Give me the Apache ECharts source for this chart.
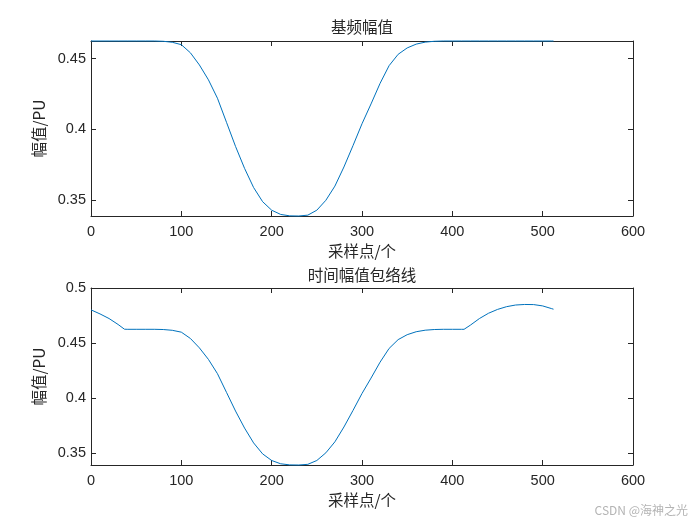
<!DOCTYPE html>
<html>
<head>
<meta charset="utf-8">
<script src="https://cdn.jsdelivr.net/npm/echarts@6/dist/echarts.min.js"></script>
<style>html,body{margin:0;padding:0;background:#fff;}#c{width:700px;height:525px;}</style>
</head>
<body>
<div id="c"></div>
<script>
// ---- data ----
const title1 = '基频幅值';
const title2 = '时间幅值包络线';
const xName = '采样点/个';
const yName = '幅值/PU';
const xTicks = [0, 100, 200, 300, 400, 500, 600];
const yTicksTop = [0.35, 0.4, 0.45];
const yTicksBottom = [0.35, 0.4, 0.45, 0.5];

const topX = [0,10,20,30,40,50,60,70,80,90,100,110,120,130,140,150,160,170,180,190,200,210,220,230,240,250,260,270,280,290,300,310,320,330,340,350,360,370,380,390,400,410,420,430,440,450,460,470,480,490,500,510,512];
const topY = [0.4624,0.4624,0.4624,0.4624,0.4624,0.4624,0.4624,0.4624,0.4622,0.4615,0.4598,0.4541,0.4455,0.4350,0.4220,0.4050,0.3880,0.3725,0.3590,0.3490,0.3430,0.3400,0.3390,0.3389,0.3395,0.3430,0.3500,0.3600,0.3735,0.3885,0.4040,0.4180,0.4325,0.4450,0.4530,0.4575,0.4602,0.4616,0.4622,0.4624,0.4624,0.4624,0.4624,0.4624,0.4624,0.4624,0.4624,0.4624,0.4624,0.4624,0.4624,0.4624,0.4624];

const botX = [0,10,20,30,37,40,50,60,70,80,90,100,110,120,130,140,150,160,170,180,190,200,210,220,230,240,250,260,270,280,290,300,310,320,330,340,350,360,370,380,390,400,410,413,420,430,440,450,460,470,480,490,500,510,512];
const botY = [0.4801,0.4764,0.4722,0.4668,0.4625,0.4624,0.4624,0.4624,0.4624,0.4622,0.4615,0.4598,0.4541,0.4455,0.4350,0.4220,0.4050,0.3880,0.3725,0.3590,0.3490,0.3430,0.3400,0.3390,0.3389,0.3395,0.3430,0.3500,0.3600,0.3735,0.3885,0.4040,0.4180,0.4325,0.4450,0.4530,0.4575,0.4602,0.4616,0.4622,0.4624,0.4624,0.4624,0.4624,0.4662,0.4722,0.4770,0.4805,0.4830,0.4845,0.4850,0.4849,0.4837,0.4812,0.4807];

const watermark = 'CSDN @海神之光';

// ---- chart ----
const FONT = '"Liberation Sans", Arial, "Noto Sans CJK SC", sans-serif';
const CJK = '"Noto Sans CJK SC", "Liberation Sans", sans-serif';
const AX = '#262626';
const LINE = '#0072BD';

function pairs(xs, ys) { return xs.map((x, i) => [x, ys[i]]); }

function xAx(gi, pos, show) {
  return {
    type: 'value', gridIndex: gi, position: pos, min: 0, max: 600, interval: 100,
    name: show ? xName : '', nameLocation: 'middle', nameGap: 27,
    nameTextStyle: { fontFamily: CJK, fontSize: 15.5, color: AX },
    axisLine: { show: true, onZero: false, lineStyle: { color: AX, width: 1 } },
    axisTick: { show: true, inside: true, length: 5, lineStyle: { color: AX } },
    axisLabel: { show: show, margin: 9, fontFamily: FONT, fontSize: 14.5, color: AX },
    splitLine: { show: false }
  };
}
function yAx(gi, pos, show, mn, mx, ticks) {
  return {
    type: 'value', gridIndex: gi, position: pos, min: mn, max: mx,
    name: show ? yName : '', nameLocation: 'middle', nameGap: 39, nameRotate: 90,
    nameTextStyle: { fontFamily: CJK, fontSize: 15.5, color: AX },
    axisLine: { show: true, onZero: false, lineStyle: { color: AX, width: 1 } },
    axisTick: { show: true, inside: true, length: 5, customValues: ticks, lineStyle: { color: AX } },
    axisLabel: { show: show, margin: 5, customValues: ticks, fontFamily: FONT, fontSize: 14.5, color: AX,
      formatter: v => String(Math.round(v * 100) / 100) },
    splitLine: { show: false }
  };
}

const chart = echarts.init(document.getElementById('c'), null, { renderer: 'canvas' });
chart.setOption({
  animation: false,
  backgroundColor: '#fff',
  title: [
    { text: title1, left: 362, top: 19, textAlign: 'center', padding: 0,
      textStyle: { fontFamily: CJK, fontSize: 15.5, fontWeight: 'normal', color: AX } },
    { text: title2, left: 362, top: 267, textAlign: 'center', padding: 0,
      textStyle: { fontFamily: CJK, fontSize: 15.5, fontWeight: 'normal', color: AX } }
  ],
  grid: [
    { left: 91, top: 41, width: 542, height: 175 },
    { left: 91, top: 288, width: 542, height: 177 }
  ],
  xAxis: [xAx(0, 'bottom', true), xAx(0, 'top', false), xAx(1, 'bottom', true), xAx(1, 'top', false)],
  yAxis: [
    yAx(0, 'left', true, 0.3389, 0.4624, yTicksTop), yAx(0, 'right', false, 0.3389, 0.4624, yTicksTop),
    yAx(1, 'left', true, 0.3389, 0.5, yTicksBottom), yAx(1, 'right', false, 0.3389, 0.5, yTicksBottom)
  ],
  series: [
    { type: 'line', xAxisIndex: 0, yAxisIndex: 0, data: pairs(topX, topY), showSymbol: false,
      smooth: false, lineStyle: { color: LINE, width: 1 }, clip: false },
    { type: 'line', xAxisIndex: 2, yAxisIndex: 2, data: pairs(botX, botY), showSymbol: false,
      smooth: false, lineStyle: { color: LINE, width: 1 }, clip: false }
  ],
  graphic: [
    { type: 'text', right: 12, top: 504,
      style: { text: watermark, fontFamily: CJK, fontSize: 12, fill: '#b4b4b4' } }
  ]
});
</script>
</body>
</html>
